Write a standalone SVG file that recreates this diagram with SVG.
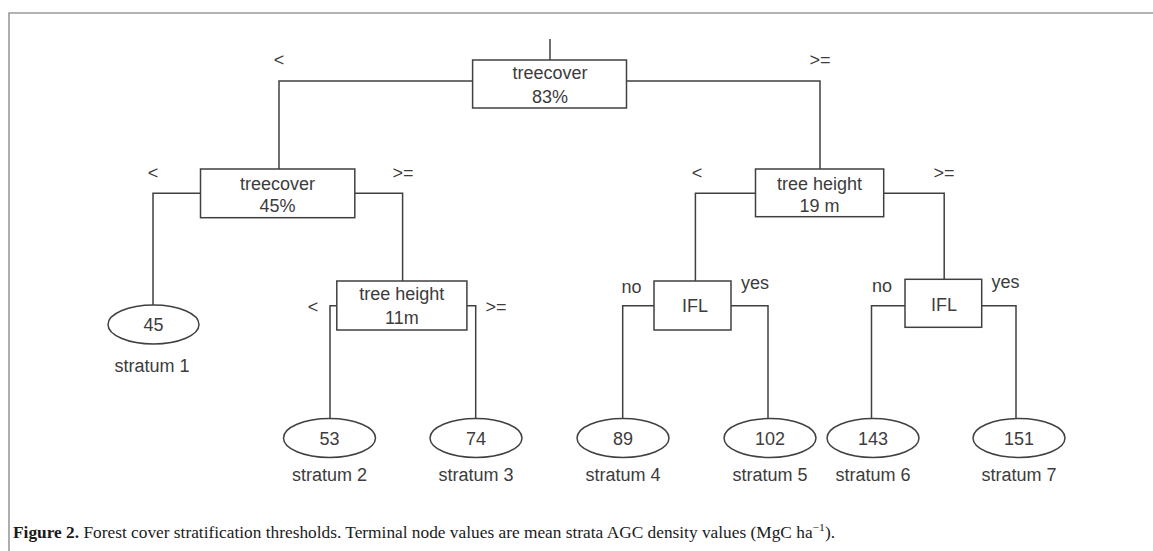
<svg xmlns="http://www.w3.org/2000/svg" width="1153" height="551" viewBox="0 0 1153 551">
<style>
.frame{fill:none;stroke:#9a9a9a;stroke-width:1.6}
.box{fill:#fff;stroke:#404040;stroke-width:1.5}
.conn{fill:none;stroke:#404040;stroke-width:1.5}
.t{font-family:"Liberation Sans",Arial,sans-serif;font-size:18px;fill:#3c3c3c;text-anchor:middle}
.cap{font-family:"Liberation Serif","Times New Roman",serif;font-size:16.5px;fill:#1a1a1a}
</style>
<rect width="1153" height="551" fill="#fff"/>
<path class="frame" d="M9,551 V13 H1153"/>
<g id="connectors">
<path class="conn" d="M550,39 V60"/>
<path class="conn" d="M472.6,81 H279 V169"/>
<path class="conn" d="M626.5,81 H820 V169"/>
<path class="conn" d="M200.5,193.3 H153 V305"/>
<path class="conn" d="M354.8,193.3 H402.6 V281"/>
<path class="conn" d="M336.8,305.7 H330 V418.5"/>
<path class="conn" d="M467,305.7 H475.7 V418.5"/>
<path class="conn" d="M755.5,193.3 H695.4 V281"/>
<path class="conn" d="M883.7,193.3 H944.2 V279.3"/>
<path class="conn" d="M654,305.7 H622.7 V418.5"/>
<path class="conn" d="M731,305.7 H768 V418.5"/>
<path class="conn" d="M905,305.7 H871.5 V418.5"/>
<path class="conn" d="M981.7,305.7 H1016 V418.5"/>
</g>
<g id="edge-labels">
<text class="t" x="279" y="66">&lt;</text>
<text class="t" x="820" y="66">&gt;=</text>
<text class="t" x="153" y="179">&lt;</text>
<text class="t" x="403" y="179">&gt;=</text>
<text class="t" x="697" y="179">&lt;</text>
<text class="t" x="944" y="179">&gt;=</text>
<text class="t" x="313" y="313">&lt;</text>
<text class="t" x="496" y="313">&gt;=</text>
<text class="t" x="631.5" y="293">no</text>
<text class="t" x="755" y="289">yes</text>
<text class="t" x="882" y="292">no</text>
<text class="t" x="1005.5" y="288">yes</text>
</g>
<g id="root">
<rect class="box" x="472.6" y="60" width="153.9" height="48"/>
<text class="t" x="550" y="79">treecover</text>
<text class="t" x="550" y="103">83%</text>
</g>
<g id="treecover45">
<rect class="box" x="200.5" y="169" width="154.3" height="48.7"/>
<text class="t" x="277.6" y="190">treecover</text>
<text class="t" x="277.6" y="212">45%</text>
</g>
<g id="treeheight19">
<rect class="box" x="755.5" y="169" width="128.2" height="47.7"/>
<text class="t" x="819.6" y="190">tree height</text>
<text class="t" x="819.6" y="212">19 m</text>
</g>
<g id="treeheight11">
<rect class="box" x="336.8" y="281" width="130.1" height="49"/>
<text class="t" x="401.8" y="300">tree height</text>
<text class="t" x="401.8" y="324">11m</text>
</g>
<g id="ifl1">
<rect class="box" x="654" y="281" width="77" height="49"/>
<text class="t" x="695" y="312">IFL</text>
</g>
<g id="ifl2">
<rect class="box" x="905" y="279.3" width="76.7" height="48"/>
<text class="t" x="944" y="311">IFL</text>
</g>
<g id="stratum1">
<ellipse class="box" cx="153.5" cy="324.5" rx="45.5" ry="19.5"/>
<text class="t" x="153.5" y="331">45</text>
<text class="t" x="152" y="372">stratum 1</text>
</g>
<g id="stratum2">
<ellipse class="box" cx="329.5" cy="438" rx="46" ry="19.5"/>
<text class="t" x="329.5" y="444.5">53</text>
<text class="t" x="329.5" y="481">stratum 2</text>
</g>
<g id="stratum3">
<ellipse class="box" cx="476" cy="438" rx="46" ry="19.5"/>
<text class="t" x="476" y="444.5">74</text>
<text class="t" x="476" y="481">stratum 3</text>
</g>
<g id="stratum4">
<ellipse class="box" cx="623" cy="438" rx="46" ry="19.5"/>
<text class="t" x="623" y="444.5">89</text>
<text class="t" x="623" y="481">stratum 4</text>
</g>
<g id="stratum5">
<ellipse class="box" cx="770" cy="438" rx="46" ry="19.5"/>
<text class="t" x="770" y="444.5">102</text>
<text class="t" x="770" y="481">stratum 5</text>
</g>
<g id="stratum6">
<ellipse class="box" cx="873" cy="438" rx="46" ry="19.5"/>
<text class="t" x="873" y="444.5">143</text>
<text class="t" x="873" y="481">stratum 6</text>
</g>
<g id="stratum7">
<ellipse class="box" cx="1019" cy="438" rx="46" ry="19.5"/>
<text class="t" x="1019" y="444.5">151</text>
<text class="t" x="1019" y="481">stratum 7</text>
</g>
<text class="cap" x="13" y="538" textLength="822" lengthAdjust="spacingAndGlyphs"><tspan font-weight="bold">Figure 2.</tspan> Forest cover stratification thresholds. Terminal node values are mean strata AGC density values (MgC ha<tspan dy="-7" font-size="11">−1</tspan><tspan dy="7">).</tspan></text>
</svg>
